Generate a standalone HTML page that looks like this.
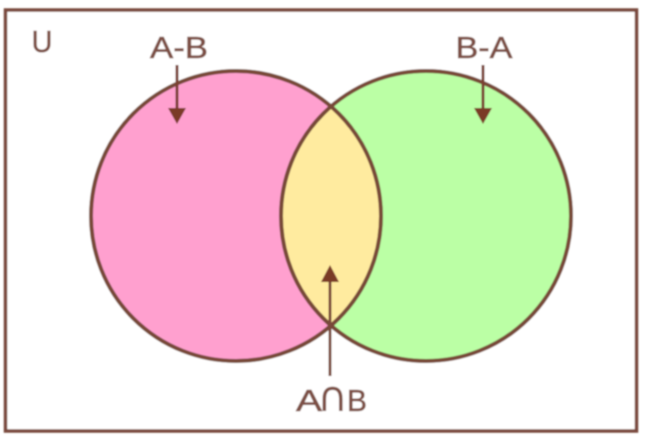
<!DOCTYPE html>
<html>
<head>
<meta charset="utf-8">
<style>
html,body{margin:0;padding:0;background:#fff;width:646px;height:446px;overflow:hidden}
svg{display:block}
text{font-family:"Liberation Sans",sans-serif;font-size:31px;fill:#7d5045;stroke:#7d5045;stroke-width:0.6;text-anchor:middle}
</style>
</head>
<body>
<svg width="646" height="446" viewBox="0 0 646 446" xmlns="http://www.w3.org/2000/svg">
<defs>
<clipPath id="c"><circle cx="236" cy="216" r="145"/></clipPath>
<filter id="b" x="-5%" y="-5%" width="110%" height="110%"><feGaussianBlur stdDeviation="0.7"/></filter>
</defs>
<rect width="646" height="446" fill="#fff"/>
<g filter="url(#b)">
<rect x="5.5" y="10" width="631" height="421" fill="#fff" stroke="#7a4a3e" stroke-width="3.5"/>
<circle cx="236" cy="216" r="145" fill="#ffa0cf"/>
<circle cx="426" cy="216" r="145" fill="#bbffa5"/>
<circle cx="426" cy="216" r="145" fill="#ffeb9f" clip-path="url(#c)"/>
<circle cx="236" cy="216" r="145" fill="none" stroke="#784a38" stroke-width="4"/>
<circle cx="426" cy="216" r="145" fill="none" stroke="#784a38" stroke-width="4"/>
<text x="179" y="58" textLength="58" lengthAdjust="spacingAndGlyphs">A-B</text>
<text x="484" y="58" textLength="57" lengthAdjust="spacingAndGlyphs">B-A</text>
<text x="42" y="52" textLength="21" lengthAdjust="spacingAndGlyphs">U</text>
<text x="309" y="411" textLength="26" lengthAdjust="spacingAndGlyphs">A</text>
<text x="332.5" y="411" style="font-family:'DejaVu Sans',sans-serif;font-size:42px;stroke-width:0">∩</text>
<text x="357" y="411" textLength="20" lengthAdjust="spacingAndGlyphs">B</text>
<line x1="177" y1="65" x2="177" y2="110" stroke="#7a4030" stroke-width="3"/>
<polygon points="168,108 186,108 177,124" fill="#7a3a28"/>
<line x1="483" y1="65" x2="483" y2="110" stroke="#7a4030" stroke-width="3"/>
<polygon points="474,108 492,108 483,124" fill="#7a3a28"/>
<line x1="330" y1="376" x2="330" y2="280" stroke="#7a4a3a" stroke-width="3"/>
<polygon points="321,282 339,282 330,265" fill="#7a3a28"/>
</g>
</svg>
</body>
</html>
